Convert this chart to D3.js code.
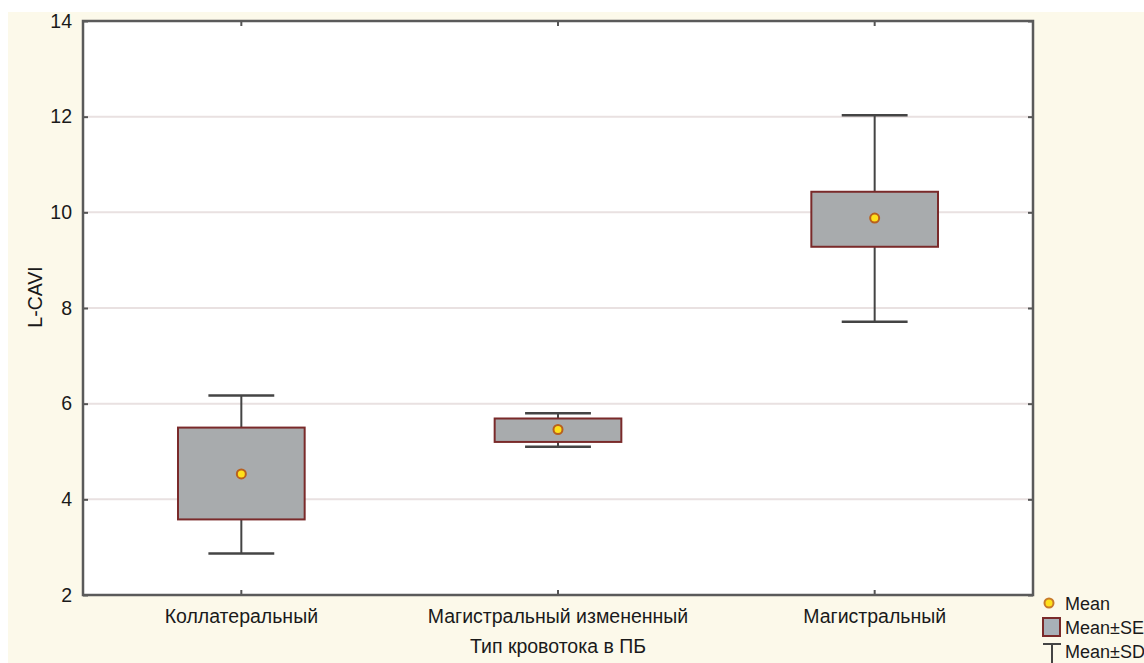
<!DOCTYPE html>
<html>
<head>
<meta charset="utf-8">
<script src="https://cdn.jsdelivr.net/npm/d3@7"></script>
<style>
  html, body { margin: 0; padding: 0; background: #ffffff; }
  svg { display: block; }
  text { font-family: "Liberation Sans", Arial, sans-serif; fill: #1a1a1a; }
</style>
</head>
<body>
<svg id="chart" width="1144" height="663"></svg>
<script>
// Blood-flow type categories and L-CAVI summary statistics
const categories = ["Коллатеральный", "Магистральный измененный", "Магистральный"];
const means   = [4.53, 5.46, 9.88];
const seLow   = [3.58, 5.20, 9.28];
const seHigh  = [5.50, 5.69, 10.43];
const sdLow   = [2.87, 5.10, 7.71];
const sdHigh  = [6.17, 5.80, 12.03];
const yTicks  = [2, 4, 6, 8, 10, 12, 14];
const legendLabels = ["Mean", "Mean±SE", "Mean±SD"];

const svg = d3.select("#chart");
const W = 1144, H = 663;
const m = { left: 83, top: 21, right: 1033, bottom: 595 };
const FS = 19.5;

// page background
svg.append("rect").attr("x", 8).attr("y", 12).attr("width", W - 8).attr("height", H - 12)
  .attr("fill", "#fcf9ea");
svg.append("rect").attr("x", m.left).attr("y", m.top)
  .attr("width", m.right - m.left).attr("height", m.bottom - m.top).attr("fill", "#ffffff");

const x = d3.scaleBand().domain(categories).range([m.left, m.right]).padding(0);
const y = d3.scaleLinear().domain([2, 14]).range([m.bottom, m.top]);

// horizontal grid
svg.append("g").selectAll("line").data(yTicks.filter(d => d > 2 && d < 14)).join("line")
  .attr("x1", m.left).attr("x2", m.right)
  .attr("y1", d => y(d)).attr("y2", d => y(d))
  .attr("stroke", "#e9e1e1").attr("stroke-width", 2);

// axes with inner ticks
const axisStyle = g => {
  g.attr("font-size", FS).attr("font-family", "Liberation Sans, Arial, sans-serif");
  g.select(".domain").remove();
  g.selectAll(".tick line").attr("stroke", "#555").attr("stroke-width", 2);
  g.selectAll(".tick text").attr("fill", "#1a1a1a");
};
svg.append("g").attr("transform", `translate(${m.left},0)`)
  .call(d3.axisLeft(y).tickValues(yTicks).tickSize(-5).tickPadding(11))
  .call(axisStyle);
svg.append("g").attr("transform", `translate(${m.right},0)`)
  .call(d3.axisRight(y).tickValues(yTicks).tickSize(-5).tickFormat(""))
  .call(axisStyle);
svg.append("g").attr("transform", `translate(0,${m.bottom})`)
  .call(d3.axisBottom(x).tickSize(-5).tickPadding(14))
  .call(axisStyle);
svg.append("g").attr("transform", `translate(0,${m.top})`)
  .call(d3.axisTop(x).tickSize(-5).tickFormat(""))
  .call(axisStyle);

// plot frame
svg.append("rect").attr("x", m.left).attr("y", m.top)
  .attr("width", m.right - m.left).attr("height", m.bottom - m.top)
  .attr("fill", "none").attr("stroke", "#5a5a5a").attr("stroke-width", 2.5);

// axis titles
svg.append("text").attr("transform", `translate(35,297) rotate(-90)`)
  .attr("text-anchor", "middle").attr("dy", "0.35em").attr("font-size", FS).text("L-CAVI");
svg.append("text").attr("x", x(categories[1]) + x.bandwidth() / 2).attr("y", 653)
  .attr("text-anchor", "middle").attr("font-size", FS).text("Тип кровотока в ПБ");

// box plots
const boxW = x.bandwidth() * 0.4;
const capW = boxW * 0.52;
const groups = svg.append("g").selectAll("g").data(categories.map((c, i) => ({ c, i }))).join("g")
  .attr("transform", d => `translate(${x(d.c) + x.bandwidth() / 2},0)`);

groups.append("line")
  .attr("x1", 0).attr("x2", 0)
  .attr("y1", d => y(sdHigh[d.i])).attr("y2", d => y(sdLow[d.i]))
  .attr("stroke", "#444").attr("stroke-width", 2);
groups.selectAll(".cap").data(d => [sdHigh[d.i], sdLow[d.i]]).join("line").attr("class", "cap")
  .attr("x1", -capW / 2).attr("x2", capW / 2)
  .attr("y1", v => y(v)).attr("y2", v => y(v))
  .attr("stroke", "#444").attr("stroke-width", 2.5);
groups.append("rect")
  .attr("x", -boxW / 2).attr("width", boxW)
  .attr("y", d => y(seHigh[d.i])).attr("height", d => y(seLow[d.i]) - y(seHigh[d.i]))
  .attr("fill", "#a8abad").attr("stroke", "#7a2a2a").attr("stroke-width", 2);
groups.append("circle")
  .attr("cx", 0).attr("cy", d => y(means[d.i])).attr("r", 4.5)
  .attr("fill", "#ffe01a").attr("stroke", "#b8601e").attr("stroke-width", 2);

// legend
const lg = svg.append("g");
lg.append("circle").attr("cx", 1049).attr("cy", 603).attr("r", 4.5)
  .attr("fill", "#ffe01a").attr("stroke", "#c87a2a").attr("stroke-width", 2);
lg.append("rect").attr("x", 1043).attr("y", 618).attr("width", 17).attr("height", 18)
  .attr("fill", "#a8b0b8").attr("stroke", "#7a2a2a").attr("stroke-width", 2);
lg.append("line").attr("x1", 1043).attr("x2", 1061).attr("y1", 644).attr("y2", 644)
  .attr("stroke", "#444").attr("stroke-width", 2);
lg.append("line").attr("x1", 1052).attr("x2", 1052).attr("y1", 644).attr("y2", 663)
  .attr("stroke", "#444").attr("stroke-width", 2);
lg.selectAll("text.lbl").data(legendLabels).join("text").attr("class", "lbl")
  .attr("x", 1065).attr("y", (d, i) => 610 + i * 24)
  .attr("font-size", 18).text(d => d);
</script>
</body>
</html>
